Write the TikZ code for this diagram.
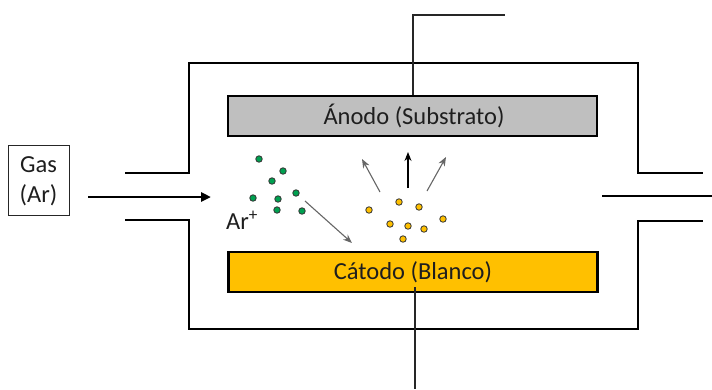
\documentclass[tikz,border=0pt]{standalone}
\usepackage{fontspec}
\setmainfont{Carlito}
\usetikzlibrary{arrows.meta}
\definecolor{anodegray}{HTML}{BFBFBF}
\definecolor{targetgold}{HTML}{FFC000}
\definecolor{iongreen}{HTML}{00A050}
\definecolor{atomgold}{HTML}{FFC000}
\definecolor{ink}{HTML}{1E1E1E}
\begin{document}
\begin{tikzpicture}[x=1pt,y=-1pt,
  wall/.style={line width=2.6pt,line join=miter},
  electrode/.style={draw=black,line width=2.6pt,minimum width=369pt,minimum height=40pt,inner sep=0pt},
  wire/.style={line width=1.4pt,draw=black!85},
  ion/.style={circle,draw=black!80,line width=0.8pt,fill=iongreen,minimum size=6.5pt,inner sep=0pt},
  atom/.style={circle,draw=black!80,line width=0.8pt,fill=atomgold,minimum size=6.5pt,inner sep=0pt},
  flow/.style={draw=black!60,line width=1.1pt,-{Stealth[length=9pt,width=7pt]}},
  label/.style={font=\fontsize{24.5}{28}\selectfont,text=ink,inner sep=0pt}]
\useasboundingbox (0,0) rectangle (712,389);

% vacuum chamber walls with inlet and outlet ports
\draw[wall] (125,173) -- (189,173) -- (189,63) -- (638,63) -- (638,173) -- (703,173);
\draw[wall] (125,220) -- (189,220) -- (189,329) -- (638,329) -- (638,221) -- (703,221);

% electrodes
\node[electrode,fill=anodegray] (anode) at (412.5,116) {};
\node[electrode,fill=targetgold] (cathode) at (413,272) {};

% electrical leads
\coordinate (anodebend) at (413,15);
\coordinate (anodeend) at (505,15);
\coordinate (cathodestart) at (415,287);
\coordinate (cathodeend) at (415,389);
\draw[wire] (anode.north -| anodebend) -- (anodebend) -- (anodeend);
\draw[wire] (cathodestart) -- (cathodeend);

% electrode labels
\node[label] (anodetxt) at (414,116) {Ánodo (Substrato)};
\node[label] (cathodetxt) at (413,272) {Cátodo (Blanco)};

% gas supply
\node[draw=black!85,line width=0.9pt,minimum width=61pt,minimum height=70pt,inner sep=0pt,
      text=ink,font=\fontsize{24.5}{28}\selectfont] (gas) at (38.5,180) {};
\node[label] (gastxt) at (38.5,182) {\begin{tabular}{@{}c@{}}Gas\\[2pt](Ar)\end{tabular}};
\coordinate (gasin) at (88,197);
\coordinate (gastip) at (211,197);
\draw[line width=2.6pt,-{Triangle[length=10pt,width=9pt]}] (gasin) -- (gastip);
\coordinate (outstart) at (602,196);
\coordinate (outend) at (712,196);
\draw[line width=2.6pt] (outstart) -- (outend);

% argon ions
\node[ion] (i1) at (259,159) {};
\node[ion] (i2) at (283,171) {};
\node[ion] (i3) at (272,181) {};
\node[ion] (i4) at (253,198) {};
\node[ion] (i5) at (278,199) {};
\node[ion] (i6) at (296,193) {};
\node[ion] (i7) at (277,210) {};
\node[ion] (i8) at (302,211) {};
\node[label] (arlabel) at (242,220) {Ar\textsuperscript{+}};

% sputtered target atoms
\node[atom] (a1) at (369,210) {};
\node[atom] (a2) at (399,202) {};
\node[atom] (a3) at (419,207) {};
\node[atom] (a4) at (443,219) {};
\node[atom] (a5) at (390,224) {};
\node[atom] (a6) at (408,226) {};
\node[atom] (a7) at (424,229) {};
\node[atom] (a8) at (403,239) {};

% ion bombardment and ejection directions
\coordinate (ionfrom) at (305,201);
\coordinate (ionto) at (352,243);
\draw[flow] (ionfrom) -- (ionto);
\coordinate (e1from) at (380,192);
\coordinate (e1to) at (362,159);
\coordinate (e2from) at (408,188);
\coordinate (e2to) at (408,152);
\coordinate (e3from) at (427,191);
\coordinate (e3to) at (446,157);
\draw[flow] (e1from) -- (e1to);
\draw[flow,draw=black] (e2from) -- (e2to);
\draw[flow] (e3from) -- (e3to);
\end{tikzpicture}
\end{document}
